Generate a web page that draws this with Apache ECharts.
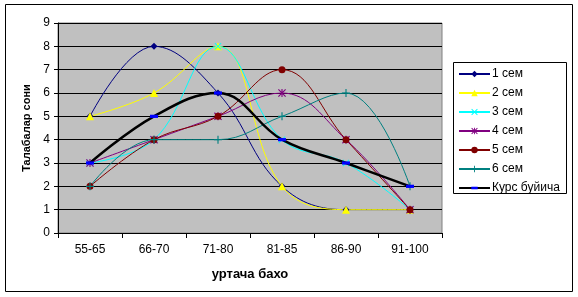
<!DOCTYPE html>
<html><head><meta charset="utf-8">
<script src="https://cdn.jsdelivr.net/npm/echarts@6/dist/echarts.min.js"></script>
<style>html,body{margin:0;padding:0;background:#fff}#c{width:578px;height:297px}</style>
</head><body><div id="c"></div>
<script>
var categories = ['55-65','66-70','71-80','81-85','86-90','91-100'];
var sem1 = [5, 8, 6, 2, 1, 1];
var sem2 = [5, 6, 8, 2, 1, 1];
var sem3 = [3, 4, 8, 4, 3, 1];
var sem4 = [3, 4, 5, 6, 4, 1];
var sem5 = [2, 4, 5, 7, 4, 1];
var sem6 = [2, 4, 4, 5, 6, 2];
var kurs = [3, 5, 6, 4, 3, 2];
var seriesNames = ['1 сем','2 сем','3 сем','4 сем','5 сем','6 сем','Курс буйича'];
var yTicks = [0, 9, 1];

var FONT = 'Liberation Sans, Arial, sans-serif';
var xSym = 'path://M0,1L1,0L5,4L9,0L10,1L6,5L10,9L9,10L5,6L1,10L0,9L4,5Z';
var plusSym = 'path://M4.3,0H5.7V4.3H10V5.7H5.7V10H4.3V5.7H0V4.3H4.3Z';
var starSym = 'path://M0,1L1,0L5,4L9,0L10,1L6,5L10,9L9,10L5,6L1,10L0,9L4,5Z M4.3,0H5.7V10H4.3Z';
var dashSym = 'path://M0,0M10,10M0,3H10V7H0Z';

function mk(name, data, color, symbol, size, width, z) {
  return {
    name: name, type: 'line', data: data, smooth: 0.4,
    symbol: symbol, symbolSize: size, showSymbol: true,
    lineStyle: { color: color, width: width },
    itemStyle: { color: color, borderWidth: 0 },
    z: z || 2, animation: false
  };
}

var chart = echarts.init(document.getElementById('c'), null, {renderer: 'canvas'});
chart.setOption({
  animation: false,
  textStyle: { fontFamily: FONT },
  grid: { left: 58, right: 136, top: 23, bottom: 64, show: true,
          backgroundColor: '#C0C0C0', borderColor: '#808080', borderWidth: 1 },
  xAxis: {
    type: 'category', data: categories, boundaryGap: true,
    name: 'уртача бахо', nameLocation: 'middle', nameGap: 35,
    nameTextStyle: { fontFamily: FONT, fontSize: 13, fontWeight: 'bold', color: '#000' },
    axisLine: { lineStyle: { color: '#000', width: 1 } },
    axisTick: { show: true, inside: false, length: 5, lineStyle: { color: '#000' } },
    axisLabel: { fontFamily: FONT, fontSize: 12, color: '#000', margin: 11 },
    splitLine: { show: false }
  },
  yAxis: {
    type: 'value', min: yTicks[0], max: yTicks[1], interval: yTicks[2],
    name: 'Талабалар сони', nameLocation: 'middle', nameGap: 20, nameRotate: 90,
    nameTextStyle: { fontFamily: FONT, fontSize: 11, fontWeight: 'bold', color: '#000' },
    axisLine: { show: true, lineStyle: { color: '#000', width: 1 } },
    axisTick: { show: true, inside: false, length: 4, lineStyle: { color: '#000' } },
    axisLabel: { fontFamily: FONT, fontSize: 12, color: '#000', margin: 8 },
    splitLine: { show: true, lineStyle: { color: '#000', width: 1 } }
  },
  legend: {
    orient: 'vertical', left: 453, top: 63,
    itemWidth: 31, itemHeight: 8, itemGap: 7,
    textStyle: { fontFamily: FONT, fontSize: 12, color: '#000', padding: [0,0,0,-3] },
    data: seriesNames, selectedMode: false
  },
  graphic: [
    { type: 'rect', shape: { x: 5.5, y: 4.5, width: 567, height: 287 },
      style: { fill: null, stroke: '#000', lineWidth: 1 }, z: -10, silent: true },
    { type: 'rect', shape: { x: 453.5, y: 62.5, width: 113, height: 131 },
      style: { fill: '#fff', stroke: '#000', lineWidth: 1 }, z: -5, silent: true }
  ],
  series: [
    mk(seriesNames[0], sem1, '#000080', 'diamond', 7, 1),
    mk(seriesNames[1], sem2, '#FFFF00', 'triangle', 8, 1),
    mk(seriesNames[2], sem3, '#00FFFF', xSym, 7, 1),
    mk(seriesNames[3], sem4, '#800080', starSym, 8, 1),
    mk(seriesNames[4], sem5, '#800000', 'circle', 7, 1),
    mk(seriesNames[5], sem6, '#008080', plusSym, 8, 1),
    {
      name: seriesNames[6], type: 'line', data: kurs, smooth: 0.4,
      symbol: dashSym, symbolSize: 8,
      lineStyle: { color: '#000', width: 2.5 },
      itemStyle: { color: '#0000FF', borderWidth: 0 },
      z: 3, animation: false
    }
  ]
});
</script></body></html>
